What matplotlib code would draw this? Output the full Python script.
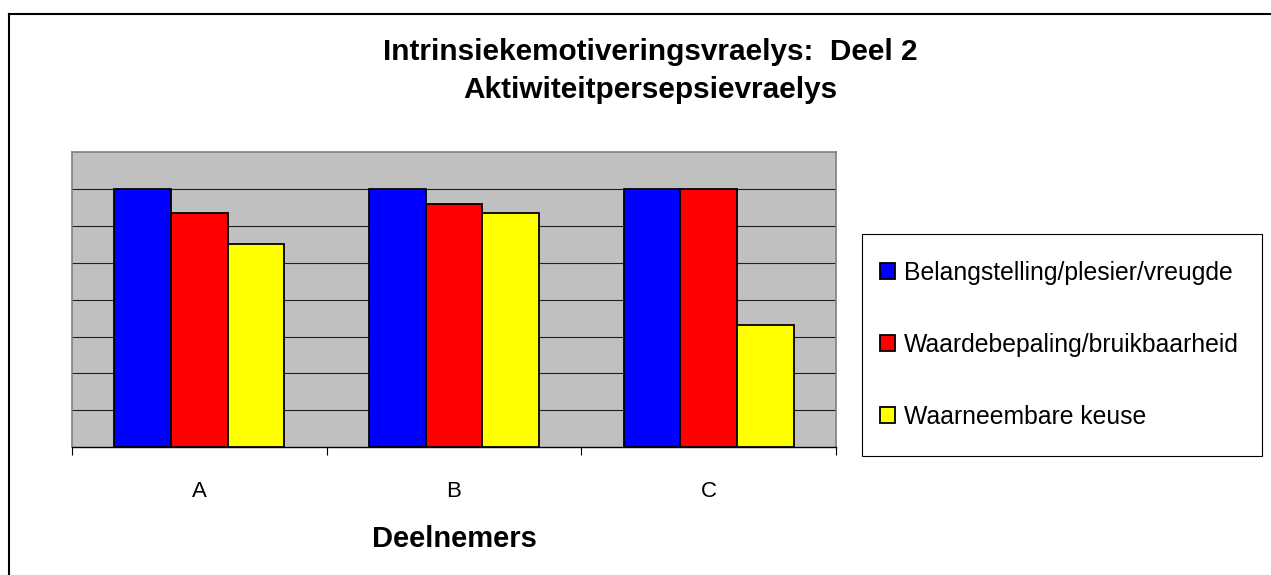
import matplotlib.pyplot as plt
from matplotlib.lines import Line2D
from matplotlib.patches import Rectangle
import numpy as np

plt.rcParams['font.family'] = ['Liberation Sans', 'DejaVu Sans']

# data
deelnemers = ['A', 'B', 'C']
reekse = ['Belangstelling/plesier/vreugde', 'Waardebepaling/bruikbaarheid', 'Waarneembare keuse']
belangstelling = [7.0, 7.0, 7.0]
waardebepaling = [6.33, 6.6, 7.0]
keuse = [5.5, 6.33, 3.3]
kleure = ['#0000ff', '#ff0000', '#ffff00']

W, H = 1271, 575
fig = plt.figure(figsize=(W / 100, H / 100), dpi=100)
ax = fig.add_axes([0.0566, 0.222, 0.6012, 0.514])
ax.set_facecolor('#c0c0c0')

x = np.arange(len(deelnemers))
w = 2 / 9
for i, (vals, lbl) in enumerate(zip([belangstelling, waardebepaling, keuse], reekse)):
    ax.bar(x + (i - 1) * w, vals, width=w, color=kleure[i], edgecolor='black',
           linewidth=1.3, label=lbl, zorder=3)

ax.set_xlim(-0.5, 2.5)
ax.set_ylim(0, 8)
ax.set_yticks(np.arange(1, 8))
ax.yaxis.grid(True, color='#202020', linewidth=0.8, zorder=1)
ax.tick_params(axis='y', length=0, labelleft=False)

ax.set_xticks(x)
ax.set_xticklabels(deelnemers, fontsize=16)
ax.set_xticks([-0.5, 0.5, 1.5, 2.5], minor=True)
ax.tick_params(axis='x', which='major', length=0, pad=24)
ax.tick_params(axis='x', which='minor', length=6, width=0.8, direction='out')

for s in ['left', 'top', 'right']:
    ax.spines[s].set_color('#808080')
    ax.spines[s].set_linewidth(1.2)
ax.spines['bottom'].set_color('black')
ax.spines['bottom'].set_linewidth(1)

ax.set_xlabel('Deelnemers', fontsize=21, fontweight='bold', labelpad=17)

fig.text(0.512, 1 - 52 / H, 'Intrinsiekemotiveringsvraelys:  Deel 2', ha='center', va='center',
         fontsize=21.4, fontweight='bold')
fig.text(0.512, 1 - 90 / H, 'Aktiwiteitpersepsievraelys', ha='center', va='center',
         fontsize=21.4, fontweight='bold')

# legend box
box = Rectangle((862 / W, 1 - 456 / H), 400 / W, 222 / H, transform=fig.transFigure,
                facecolor='white', edgecolor='black', linewidth=0.8, zorder=4, clip_on=False)
ax.add_patch(box)
leg = ax.legend(loc='upper left', bbox_to_anchor=(880 / W, 1 - 261 / H),
                bbox_transform=fig.transFigure, fontsize=17.8, frameon=False,
                labelspacing=1.94, handlelength=0.62, handleheight=0.62,
                handletextpad=0.35, borderpad=0, borderaxespad=0)
leg.set_zorder(5)

# outer chart border
fig.add_artist(Line2D([9 / W, 9 / W], [0, 1 - 14 / H], color='black', linewidth=1.5))
fig.add_artist(Line2D([9 / W, 1], [1 - 14 / H, 1 - 14 / H], color='black', linewidth=1.5))

fig.savefig('out.png', dpi=100)
